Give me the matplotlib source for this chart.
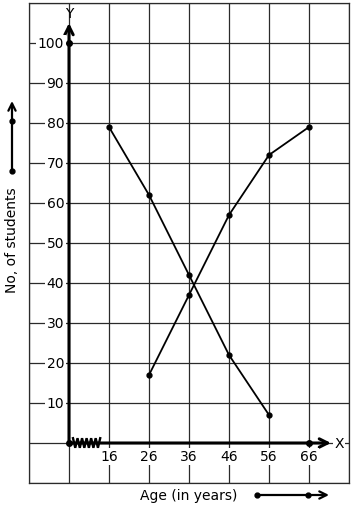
import numpy as np
import matplotlib
matplotlib.use('Agg')
import matplotlib.pyplot as plt

# Dados
idades = [16, 26, 36, 46, 56, 66]
idades_linha_a = [16, 26, 36, 46, 56]
alunos_linha_a = [79, 62, 42, 22, 7]
idades_linha_b = [26, 36, 46, 56, 66]
alunos_linha_b = [17, 37, 57, 72, 79]
valores_y = [10, 20, 30, 40, 50, 60, 70, 80, 90, 100]


# eixo x com quebra: origem em 0, depois 16, 26, ... a cada coluna
def pos_x(idade):
    return (np.asarray(idade) - 6) / 10.0


fig = plt.figure(figsize=(3.54, 5.10), dpi=100)
W, H = 354, 510
ax = fig.add_axes([29 / W, 26 / H, 320 / W, 480 / H])
ax.set_xlim(-1, 7)
ax.set_ylim(-10, 110)

cor_grade = '#2a2a2a'
ax.set_xticks(np.arange(-1, 8))
ax.set_yticks(np.arange(-10, 111, 10))
ax.tick_params(length=0, labelbottom=False, labelleft=False)
ax.grid(True, color=cor_grade, linewidth=0.9)
for s in ax.spines.values():
    s.set_color(cor_grade)
    s.set_linewidth(0.9)

fs = 10
bb = dict(facecolor='white', edgecolor='none', pad=1.0)

# eixos principais (grossos) com setas
ax.annotate('', xy=(6.55, 0), xytext=(0, 0),
            arrowprops=dict(arrowstyle='->', lw=2.2, color='black',
                            mutation_scale=15, shrinkA=0, shrinkB=0))
ax.annotate('', xy=(0, 105), xytext=(0, 0),
            arrowprops=dict(arrowstyle='->', lw=2.2, color='black',
                            mutation_scale=15, shrinkA=0, shrinkB=0))
ax.plot([0, 0, pos_x(66)], [0, 100, 0], 'o', color='black', ms=4, zorder=5)

# quebra em zigue-zague no eixo x
n = 13
zx = np.linspace(0.1, 0.78, n)
zy = np.where(np.arange(n) % 2 == 0, 1.2, -1.2)
ax.plot(zx, zy, color='black', lw=1.7, zorder=6, solid_joinstyle='miter')

ax.text(0, 107.5, 'Y', ha='center', va='center', fontsize=fs)
ax.text(6.75, 0, 'X', ha='center', va='center', fontsize=fs, bbox=bb, zorder=4)

# rotulos dos eixos
for v in valores_y:
    ax.text(-0.12, v, str(v), ha='right', va='center', fontsize=fs,
            bbox=bb, zorder=4)
for a in idades:
    ax.text(pos_x(a), -3.3, str(a), ha='center', va='center', fontsize=fs,
            bbox=bb, zorder=4)

# linhas de dados
ax.plot(pos_x(idades_linha_a), alunos_linha_a, '-o', color='black',
        lw=1.3, ms=3.5, zorder=5)
ax.plot(pos_x(idades_linha_b), alunos_linha_b, '-o', color='black',
        lw=1.3, ms=3.5, zorder=5)

# titulos dos eixos com setas decorativas
ax.text(3.0, -13, 'Age (in years)', ha='center', va='center', fontsize=fs,
        clip_on=False)
ax.annotate('', xy=(6.5, -13), xytext=(4.7, -13), annotation_clip=False,
            arrowprops=dict(arrowstyle='->', lw=1.6, color='black',
                            mutation_scale=13, shrinkA=0, shrinkB=0))
ax.plot([4.7, 5.97], [-13, -13], 'o', color='black', ms=3.5, clip_on=False)

ax.text(-1.425, 51, 'No, of students', rotation=90, ha='center',
        va='center', fontsize=fs, clip_on=False)
ax.annotate('', xy=(-1.425, 85.5), xytext=(-1.425, 68), annotation_clip=False,
            arrowprops=dict(arrowstyle='->', lw=1.6, color='black',
                            mutation_scale=13, shrinkA=0, shrinkB=0))
ax.plot([-1.425, -1.425], [68, 80.5], 'o', color='black', ms=3.5,
        clip_on=False)

fig.savefig('out.png', dpi=100, facecolor='white')
